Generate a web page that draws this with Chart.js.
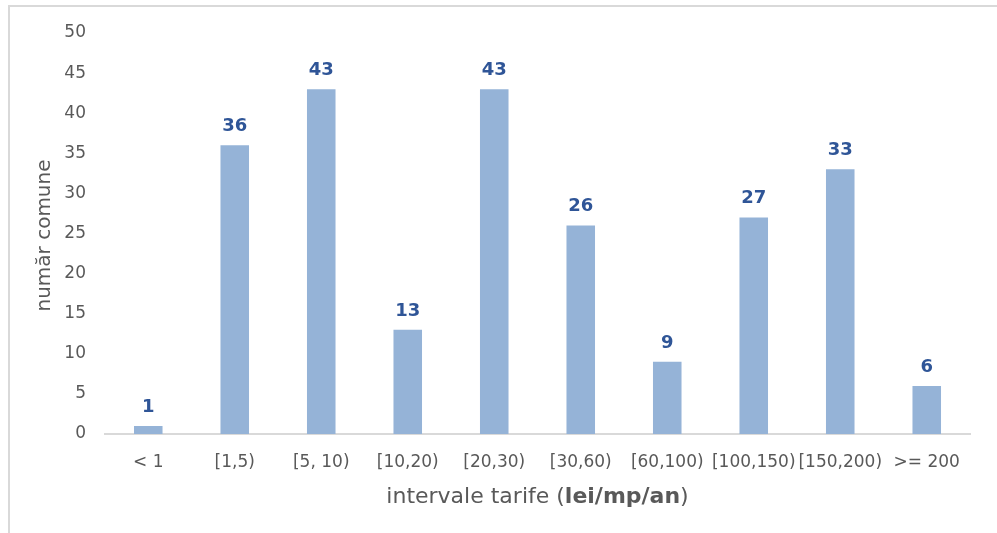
<!DOCTYPE html>
<html>
<head>
<meta charset="utf-8">
<script src="https://cdn.jsdelivr.net/npm/chart.js@4/dist/chart.umd.min.js"></script>
<style>
  html, body { margin: 0; padding: 0; background: #ffffff; }
  #wrap { position: relative; width: 997px; height: 533px; }
</style>
</head>
<body>
<div id="wrap"><canvas id="c" width="997" height="533"></canvas></div>
<script>
// Tariff intervals (lei/mp/an) and number of communes in each
const categories = ['< 1', '[1,5)', '[5, 10)', '[10,20)', '[20,30)', '[30,60)', '[60,100)', '[100,150)', '[150,200)', '>= 200'];
const communes = [1, 36, 43, 13, 43, 26, 9, 27, 33, 6];
const yTicks = [0, 5, 10, 15, 20, 25, 30, 35, 40, 45, 50];

const FONT = "'DejaVu Sans', Verdana, sans-serif";
const GREY = '#595959';

// Frame lines, value labels above the bars and the two axis titles
const decor = {
  id: 'decor',
  beforeDraw(chart) {
    const ctx = chart.ctx;
    ctx.save();
    ctx.fillStyle = '#ffffff';
    ctx.fillRect(0, 0, chart.width, chart.height);
    ctx.strokeStyle = '#d9d9d9';
    ctx.lineWidth = 2;
    ctx.beginPath();
    ctx.moveTo(9, chart.height);
    ctx.lineTo(9, 6);
    ctx.lineTo(chart.width, 6);
    ctx.stroke();
    ctx.restore();
  },
  afterDatasetsDraw(chart) {
    const ctx = chart.ctx;
    const meta = chart.getDatasetMeta(0);
    ctx.save();
    ctx.font = 'bold 18px ' + FONT;
    ctx.fillStyle = '#2f5597';
    ctx.textAlign = 'center';
    ctx.textBaseline = 'alphabetic';
    meta.data.forEach((bar, i) => {
      ctx.fillText(String(communes[i]), bar.x, bar.y - 14);
    });
    ctx.restore();
  },
  afterDraw(chart) {
    const ctx = chart.ctx;
    const area = chart.chartArea;
    ctx.save();
    ctx.fillStyle = GREY;
    ctx.textBaseline = 'middle';
    // y-axis title
    ctx.save();
    ctx.translate(45, (area.top + area.bottom) / 2 + 2);
    ctx.rotate(-Math.PI / 2);
    ctx.textAlign = 'center';
    ctx.font = '20px ' + FONT;
    ctx.fillText('număr comune', 0, 0);
    ctx.restore();
    // x-axis title, with bold units
    const parts = [
      { t: 'intervale tarife (', f: '22px ' + FONT },
      { t: 'lei/mp/an', f: 'bold 22px ' + FONT },
      { t: ')', f: '22px ' + FONT }
    ];
    let total = 0;
    parts.forEach(p => { ctx.font = p.f; p.w = ctx.measureText(p.t).width; total += p.w; });
    let x = (area.left + area.right) / 2 - total / 2;
    ctx.textAlign = 'left';
    parts.forEach(p => { ctx.font = p.f; ctx.fillText(p.t, x, 497); x += p.w; });
    ctx.restore();
  }
};

new Chart(document.getElementById('c'), {
  type: 'bar',
  data: {
    labels: categories,
    datasets: [{
      data: communes,
      backgroundColor: '#95b3d7',
      borderWidth: 0,
      categoryPercentage: 1.0,
      barPercentage: 0.33
    }]
  },
  options: {
    responsive: false,
    animation: false,
    layout: { padding: { left: 0, right: 27, top: 33, bottom: 0 } },
    plugins: { legend: { display: false }, tooltip: { enabled: false } },
    scales: {
      x: {
        grid: { display: false, drawTicks: false },
        border: { display: true, color: '#d9d9d9', width: 2 },
        ticks: { color: GREY, font: { family: FONT, size: 17 }, padding: 18, maxRotation: 0, autoSkip: false },
        afterFit(scale) { scale.height = 99; }
      },
      y: {
        min: 0,
        max: 50,
        afterBuildTicks(scale) { scale.ticks = yTicks.map(v => ({ value: v })); },
        grid: { display: false, drawTicks: false },
        border: { display: false },
        ticks: { color: GREY, font: { family: FONT, size: 17 }, padding: 19 },
        afterFit(scale) { scale.width = 105; }
      }
    }
  },
  plugins: [decor]
});
</script>
</body>
</html>
